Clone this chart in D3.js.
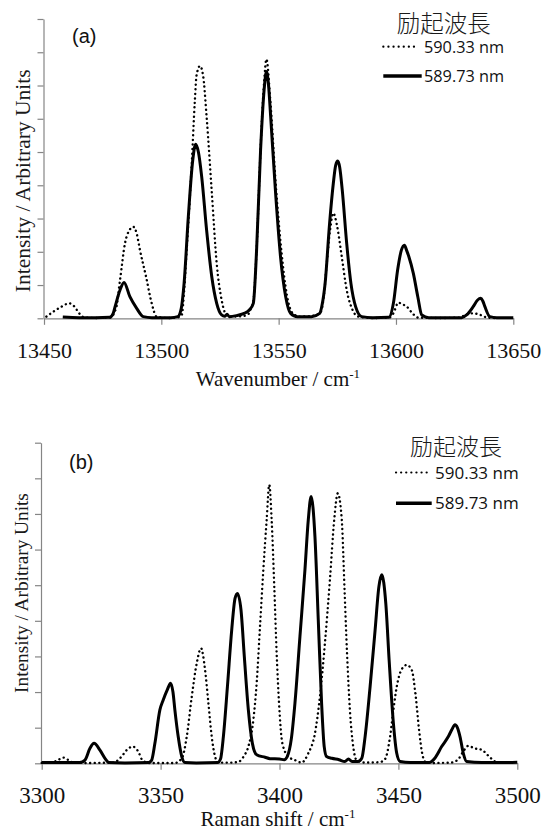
<!DOCTYPE html>
<html>
<head>
<meta charset="utf-8">
<script src="https://cdn.jsdelivr.net/npm/d3@7/dist/d3.min.js"></script>
<style>
    body { margin: 0; background: #fff; }
    svg { display: block; }
</style>
</head>
<body>
<div id="chart"></div>
<script>
const panelLabels = ['(a)', '(b)'];
const legendTitle = '励起波長';
const seriesNames = ['590.33 nm', '589.73 nm'];
const xTitles = ['Wavenumber / cm', 'Raman shift  / cm'];
const yTitle = 'Intensity / Arbitrary Units';
const topXTicks = [13450, 13500, 13550, 13600, 13650];
const bottomXTicks = [3300, 3350, 3400, 3450, 3500];
const yTicks = [0, 1, 2, 3, 4, 5, 6, 7, 8, 9];

// (a) 590.33 nm, dotted
const topDotted = [[13451,0.05],[13454,0.2],[13457,0.33],[13460.8,0.45],[13463,0.35],[13465,0.15],[13467,0.03],[13472,0.01],[13478,0.02],[13480.7,0.3],[13482.4,1.15],[13484.5,2.25],[13486.4,2.65],[13488.1,2.75],[13489.5,2.55],[13490.9,2.05],[13493.5,1.25],[13495.9,0.45],[13498,0.05],[13503,0.01],[13507,0.03],[13508.7,0.1],[13509.8,0.9],[13510.8,2.05],[13512.9,4.56],[13514.3,6.56],[13515,7.3],[13516.5,7.59],[13517.8,7.3],[13519.3,6.06],[13521.5,3.8],[13523.6,1.65],[13525.7,0.55],[13527.8,0.1],[13530,0.05],[13534,0.06],[13537,0.12],[13538.2,0.3],[13539.2,0.5],[13540.6,2.05],[13542.3,5.1],[13543.8,7.1],[13544.8,7.79],[13546.4,6.6],[13548.8,4.0],[13551.2,2.0],[13553.5,0.7],[13556,0.15],[13559,0.05],[13563,0.06],[13566,0.1],[13568,0.2],[13569.3,0.7],[13570.5,1.65],[13571.9,2.65],[13573.3,3.16],[13574.7,2.85],[13576.9,1.85],[13579,0.85],[13581.5,0.25],[13584,0.05],[13590,0.01],[13597,0.02],[13598.9,0.15],[13601,0.47],[13602.8,0.42],[13604.6,0.35],[13607.4,0.12],[13609.5,0.02],[13620,0.01],[13627,0.02],[13630,0.12],[13633,0.15],[13636,0.1],[13639,0.02],[13642,0.01]];

// (a) 589.73 nm, solid
const topSolid = [[13458,0.04],[13465,0.02],[13472,0.02],[13478,0.03],[13479.5,0.15],[13480.3,0.35],[13482.4,0.85],[13484.1,1.08],[13486.6,0.65],[13489.5,0.3],[13492.3,0.05],[13496,0.02],[13504,0.02],[13507,0.05],[13508.5,0.3],[13509.7,1.05],[13511.5,3.05],[13513.4,4.76],[13514.6,5.23],[13515.8,5.0],[13517.2,4.26],[13519.3,2.65],[13521.5,1.25],[13523.6,0.45],[13525.7,0.1],[13527,0.06],[13528,0.12],[13529,0.05],[13532,0.08],[13535,0.14],[13537.5,0.25],[13539.2,0.45],[13540.6,2.05],[13542.3,5.06],[13543.8,6.86],[13544.8,7.42],[13545.7,7.0],[13546.6,6.06],[13548.7,3.76],[13550.8,1.85],[13553,0.65],[13555.1,0.15],[13558,0.05],[13564,0.05],[13567.5,0.15],[13568.5,0.4],[13569.8,1.05],[13571.7,2.85],[13573.3,4.06],[13574.3,4.6],[13575.2,4.73],[13576,4.55],[13577.1,3.86],[13579,2.25],[13580.8,1.05],[13582.8,0.35],[13585.4,0.05],[13590,0.02],[13597,0.03],[13598.9,0.45],[13600.7,1.45],[13602.3,2.05],[13603.6,2.2],[13604.5,2.05],[13605.5,1.85],[13607.4,1.35],[13609.3,0.65],[13611,0.1],[13614,0.02],[13628,0.02],[13630.1,0.1],[13632.9,0.35],[13634.8,0.55],[13636.1,0.6],[13637,0.52],[13637.9,0.35],[13640,0.05],[13643,0.02],[13650,0.02]];

// (b) 590.33 nm, dotted
const bottomDotted = [[3300,0.01],[3304,0.02],[3306.5,0.08],[3309.1,0.16],[3311,0.1],[3313,0.03],[3318,0.01],[3330,0.02],[3333.6,0.19],[3335.7,0.37],[3338.3,0.47],[3340.6,0.33],[3342.3,0.09],[3345,0.01],[3356,0.01],[3359,0.15],[3361,0.75],[3363.1,1.87],[3365.2,2.81],[3367,3.23],[3368.7,2.62],[3370.1,1.69],[3371.5,0.75],[3372.9,0.19],[3374.3,0.02],[3380,0.02],[3383,0.05],[3385,0.2],[3386.9,0.47],[3389,1.22],[3390.4,2.25],[3391.8,3.84],[3393.2,5.43],[3394.6,6.83],[3395.7,7.82],[3396.7,6.83],[3397.8,4.96],[3398.8,3.09],[3399.8,1.69],[3401.2,0.56],[3403.7,0.19],[3406.5,0.09],[3409.3,0.02],[3412.1,0.28],[3414.9,0.84],[3417,1.87],[3419.1,3.37],[3421.2,5.15],[3423,6.83],[3424.5,7.58],[3426.2,6.83],[3427.3,4.96],[3428.4,3.09],[3429.6,1.5],[3431,0.47],[3432.4,0.09],[3436,0.02],[3442,0.03],[3444.4,0.12],[3446.5,0.75],[3447.9,1.5],[3449.3,2.15],[3451.4,2.64],[3453.5,2.76],[3455.6,2.62],[3457.3,1.87],[3458.7,0.93],[3460,0.28],[3461.2,0.05],[3465,0.01],[3472,0.02],[3475,0.1],[3477,0.3],[3479.4,0.49],[3482,0.42],[3485,0.38],[3488,0.2],[3490.6,0.05],[3493,0.01]];

// (b) 589.73 nm, solid
const bottomSolid = [[3300,0.02],[3310,0.02],[3316,0.02],[3318.2,0.09],[3320.3,0.42],[3322,0.56],[3324.5,0.37],[3326.6,0.14],[3328.3,0.02],[3335,0.01],[3345,0.02],[3346.2,0.08],[3347.6,0.56],[3349.7,1.5],[3351.1,1.78],[3352.8,2.06],[3354.2,2.25],[3355.2,2.0],[3356,1.5],[3357.4,0.75],[3358.9,0.19],[3360.3,0.02],[3365,0.01],[3374,0.02],[3375.2,0.12],[3376.4,0.75],[3378.1,2.15],[3379.9,3.74],[3381.3,4.63],[3382.3,4.77],[3383.8,4.31],[3385.2,3.0],[3386.9,1.5],[3388.6,0.56],[3390.4,0.24],[3393.9,0.17],[3396,0.13],[3400,0.12],[3402,0.1],[3403.2,0.18],[3405,0.7],[3406.5,1.69],[3408.6,3.56],[3410.7,5.43],[3412.1,6.83],[3413.3,7.49],[3414.9,6.37],[3416.3,4.03],[3417.7,1.69],[3418.8,0.47],[3419.8,0.19],[3422,0.14],[3425,0.1],[3427.5,0.05],[3429,0.12],[3430.5,0.05],[3433,0.05],[3434.6,0.14],[3436,0.75],[3438.1,2.15],[3440.2,3.74],[3441.8,4.96],[3443,5.29],[3444.7,4.49],[3446.1,2.9],[3447.9,1.12],[3449.3,0.28],[3450.7,0.05],[3455,0.02],[3463,0.02],[3465.4,0.15],[3468.2,0.47],[3471,0.75],[3472.5,0.95],[3473.8,1.08],[3474.8,1.0],[3475.9,0.75],[3477.3,0.28],[3478.7,0.05],[3485,0.02],[3495,0.02],[3500,0.03]];


const w = 543;
const h = 828;
const axisColor = '#858585';
const serif = '"Liberation Serif", "Times New Roman", serif';
const sans = '"Open Sans", "Liberation Sans", sans-serif';

const svg = d3.select('#chart')
    .append('svg')
    .attr('width', w)
    .attr('height', h);

const panels = [
    {
        label: panelLabels[0], xTitle: xTitles[0], ticks: topXTicks,
        dotted: topDotted, solid: topSolid,
        left: 44, right: 513.3, top: 19, bottom: 318.3, yAxisX: 43.5,
        tickFont: 22, labelGap: 40, titleY: 386, titleFont: 21,
        yTitleX: 30, yTitleY: 180.8, yTitleFont: 21.5, labelPos: [72, 42.5],
        legend: { x: 383.3, titleX: 396.7, titleY: 31.5, titleFont: 23.5, dotY: 46.7, solidY: 76, lineEnd: 418.3, solidEnd: 421.7, textX: 424, font: 16.3 }
    },
    {
        label: panelLabels[1], xTitle: xTitles[1], ticks: bottomXTicks,
        dotted: bottomDotted, solid: bottomSolid,
        left: 41.7, right: 517.3, top: 442.7, bottom: 763.3, yAxisX: 41,
        tickFont: 23, labelGap: 40, titleY: 825.5, titleFont: 21,
        yTitleX: 28, yTitleY: 593, yTitleFont: 19.3, labelPos: [69, 469],
        legend: { x: 396, titleX: 410, titleY: 455, titleFont: 23, dotY: 472.5, solidY: 503.3, lineEnd: 429, solidEnd: 431.7, textX: 435, font: 17 }
    }
];

const drawPanel = (p) => {
    const xScale = d3.scaleLinear()
        .domain([p.ticks[0], p.ticks[p.ticks.length - 1]])
        .range([p.left, p.right]);
    const yScale = d3.scaleLinear()
        .domain([yTicks[0], yTicks[yTicks.length - 1]])
        .range([p.bottom, p.top]);

    const g = svg.append('g');

    const xAxis = d3.axisBottom(xScale)
        .tickValues(p.ticks)
        .tickFormat(d3.format('d'))
        .tickSizeInner(6.5)
        .tickSizeOuter(0)
        .tickPadding(p.labelGap - 6.5 - 0.71 * p.tickFont);
    const yAxis = d3.axisLeft(yScale)
        .tickValues(yTicks)
        .tickFormat('')
        .tickSizeInner(6)
        .tickSizeOuter(0);

    const gx = g.append('g')
        .attr('transform', `translate(0, ${p.bottom})`)
        .call(xAxis);
    const gy = g.append('g')
        .attr('transform', `translate(${p.yAxisX}, 0)`)
        .call(yAxis);

    [gx, gy].forEach(a => {
        a.select('.domain').attr('stroke', axisColor).attr('stroke-width', 1.2);
        a.selectAll('.tick line').attr('stroke', axisColor).attr('stroke-width', 1.2);
    });
    gx.selectAll('.tick text')
        .attr('fill', '#111')
        .style('font-family', serif)
        .style('font-size', p.tickFont + 'px');

    const line = d3.line()
        .x(d => xScale(d[0]))
        .y(d => yScale(d[1]))
        .curve(d3.curveMonotoneX);

    g.append('path')
        .datum(p.dotted)
        .attr('d', line)
        .attr('fill', 'none')
        .attr('stroke', '#000')
        .attr('stroke-width', 2.4)
        .attr('stroke-linecap', 'round')
        .attr('stroke-dasharray', '0.1 4.5');

    g.append('path')
        .datum(p.solid)
        .attr('d', line)
        .attr('fill', 'none')
        .attr('stroke', '#000')
        .attr('stroke-width', 3)
        .attr('stroke-linejoin', 'round');

    // axis titles
    const xt = g.append('text')
        .attr('x', 278)
        .attr('y', p.titleY)
        .attr('text-anchor', 'middle')
        .attr('fill', '#111')
        .style('font-family', serif)
        .style('font-size', p.titleFont + 'px')
        .text(p.xTitle);
    xt.append('tspan')
        .attr('dy', -p.titleFont * 0.38)
        .style('font-size', (p.titleFont * 0.62) + 'px')
        .text('-1');

    g.append('text')
        .attr('transform', `translate(${p.yTitleX}, ${p.yTitleY}) rotate(-90)`)
        .attr('text-anchor', 'middle')
        .attr('fill', '#1a1a1a')
        .style('font-family', serif)
        .style('font-size', p.yTitleFont + 'px')
        .text(yTitle);

    g.append('text')
        .attr('x', p.labelPos[0])
        .attr('y', p.labelPos[1])
        .attr('fill', '#111')
        .style('font-family', '"Liberation Sans", Arial, sans-serif')
        .style('font-size', '20px')
        .text(p.label);

    // legend
    const lg = p.legend;
    g.append('text')
        .attr('x', lg.titleX)
        .attr('y', lg.titleY)
        .attr('fill', '#1a1a1a')
        .style('font-family', '"Noto Sans CJK JP", sans-serif')
        .style('font-weight', 300)
        .style('font-size', lg.titleFont + 'px')
        .text(legendTitle);

    g.append('line')
        .attr('x1', lg.x).attr('x2', lg.lineEnd)
        .attr('y1', lg.dotY).attr('y2', lg.dotY)
        .attr('stroke', '#000')
        .attr('stroke-width', 2.2)
        .attr('stroke-linecap', 'round')
        .attr('stroke-dasharray', '0.1 5');
    g.append('line')
        .attr('x1', lg.x).attr('x2', lg.solidEnd)
        .attr('y1', lg.solidY).attr('y2', lg.solidY)
        .attr('stroke', '#000')
        .attr('stroke-width', 3.5);

    [[seriesNames[0], lg.dotY], [seriesNames[1], lg.solidY]].forEach(([name, yy]) => {
        g.append('text')
            .attr('x', lg.textX)
            .attr('y', yy + lg.font * 0.36)
            .attr('fill', '#111')
            .style('font-family', sans)
            .style('font-size', lg.font + 'px')
            .text(name);
    });
};

panels.forEach(drawPanel);
</script>
</body>
</html>
